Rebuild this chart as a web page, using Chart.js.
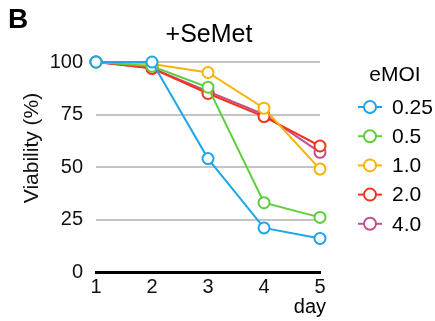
<!DOCTYPE html>
<html>
<head>
<meta charset="utf-8">
<script src="https://cdn.jsdelivr.net/npm/chart.js@4"></script>
<style>
  html, body { margin: 0; padding: 0; background: #fff; }
  #chart { display: block; }
</style>
</head>
<body>
<canvas id="chart" width="435" height="321"></canvas>
<script>
const days = [1, 2, 3, 4, 5];
const moiLabels = ["0.25", "0.5", "1.0", "2.0", "4.0"];
const moi025 = [100, 100, 54, 21, 16];
const moi05 = [100, 98, 88, 33, 26];
const moi10 = [100, 99, 95, 78, 49];
const moi20 = [100, 97, 85, 74, 60];
const moi40 = [100, 97, 86, 75, 57];
const yTicks = [0, 25, 50, 75, 100];

const colors = ["#1ea6ea", "#5ecf3c", "#f6b408", "#f2331d", "#c2508e"];
const FONT = "'Liberation Sans', Arial, sans-serif";

function makeSet(label, values, color) {
    return {
        label: label,
        data: values.map((v, i) => ({ x: days[i], y: v })),
        borderColor: color,
        backgroundColor: "#fff",
        pointBackgroundColor: "#fff",
        pointBorderColor: color,
        pointRadius: 5.5,
        pointBorderWidth: 2,
        borderWidth: 2,
        clip: false
    };
}

// title, panel letter, axis titles and the eMOI legend
const extras = {
    id: "extras",
    afterDraw(chart) {
        const ctx = chart.ctx;
        ctx.save();
        ctx.fillStyle = "#000";
        ctx.textBaseline = "alphabetic";

        ctx.font = "bold 28px " + FONT;
        ctx.textAlign = "left";
        ctx.fillText("B", 8, 28);

        ctx.font = "25px " + FONT;
        ctx.textAlign = "center";
        ctx.fillText("+SeMet", 209, 42);

        ctx.font = "20px " + FONT;
        ctx.textAlign = "right";
        ctx.fillText("day", 326, 313);

        // y axis title, rotated
        ctx.save();
        ctx.translate(32, 148);
        ctx.rotate(-Math.PI / 2);
        ctx.font = "21px " + FONT;
        ctx.fillStyle = "#111";
        ctx.textAlign = "center";
        ctx.textBaseline = "middle";
        ctx.fillText("Viability (%)", 0, 0);
        ctx.restore();

        ctx.font = "21px " + FONT;
        ctx.textAlign = "center";
        ctx.fillText("eMOI", 395, 81);

        chart.data.datasets.forEach((ds, i) => {
            const y = 107 + i * 29.2;
            ctx.strokeStyle = ds.borderColor;
            ctx.lineWidth = 2;
            ctx.beginPath();
            ctx.moveTo(358, y);
            ctx.lineTo(382, y);
            ctx.stroke();
            ctx.beginPath();
            ctx.arc(370, y, 6, 0, Math.PI * 2);
            ctx.fillStyle = "#fff";
            ctx.fill();
            ctx.stroke();
            ctx.fillStyle = "#000";
            ctx.textAlign = "left";
            ctx.textBaseline = "middle";
            ctx.fillText(ds.label, 392, y + 1);
        });
        ctx.restore();
    }
};

new Chart(document.getElementById("chart"), {
    type: "line",
    data: {
        datasets: [
            makeSet(moiLabels[0], moi025, colors[0]),
            makeSet(moiLabels[1], moi05, colors[1]),
            makeSet(moiLabels[2], moi10, colors[2]),
            makeSet(moiLabels[3], moi20, colors[3]),
            makeSet(moiLabels[4], moi40, colors[4])
        ]
    },
    options: {
        responsive: false,
        animation: false,
        layout: { padding: { left: 0, right: 115, top: 62, bottom: 0 } },
        plugins: {
            legend: { display: false },
            tooltip: { enabled: false }
        },
        scales: {
            x: {
                type: "linear",
                min: 1,
                max: 5,
                afterFit: s => { s.height = 49; },
                afterBuildTicks: s => { s.ticks = days.map(v => ({ value: v })); },
                grid: { display: false, drawTicks: false },
                border: { display: true, color: "#000", width: 3 },
                ticks: { color: "#111", font: { family: FONT, size: 20 }, padding: 3 }
            },
            y: {
                min: 0,
                max: 100,
                afterFit: s => { s.width = 96; },
                afterBuildTicks: s => { s.ticks = yTicks.map(v => ({ value: v })); },
                grid: {
                    drawTicks: false,
                    lineWidth: 2,
                    color: c => (c.tick && c.tick.value === 0) ? "rgba(0,0,0,0)" : "#c4c4c4"
                },
                border: { display: false },
                ticks: { color: "#111", font: { family: FONT, size: 20 }, padding: 13 }
            }
        }
    },
    plugins: [extras]
});
</script>
</body>
</html>
